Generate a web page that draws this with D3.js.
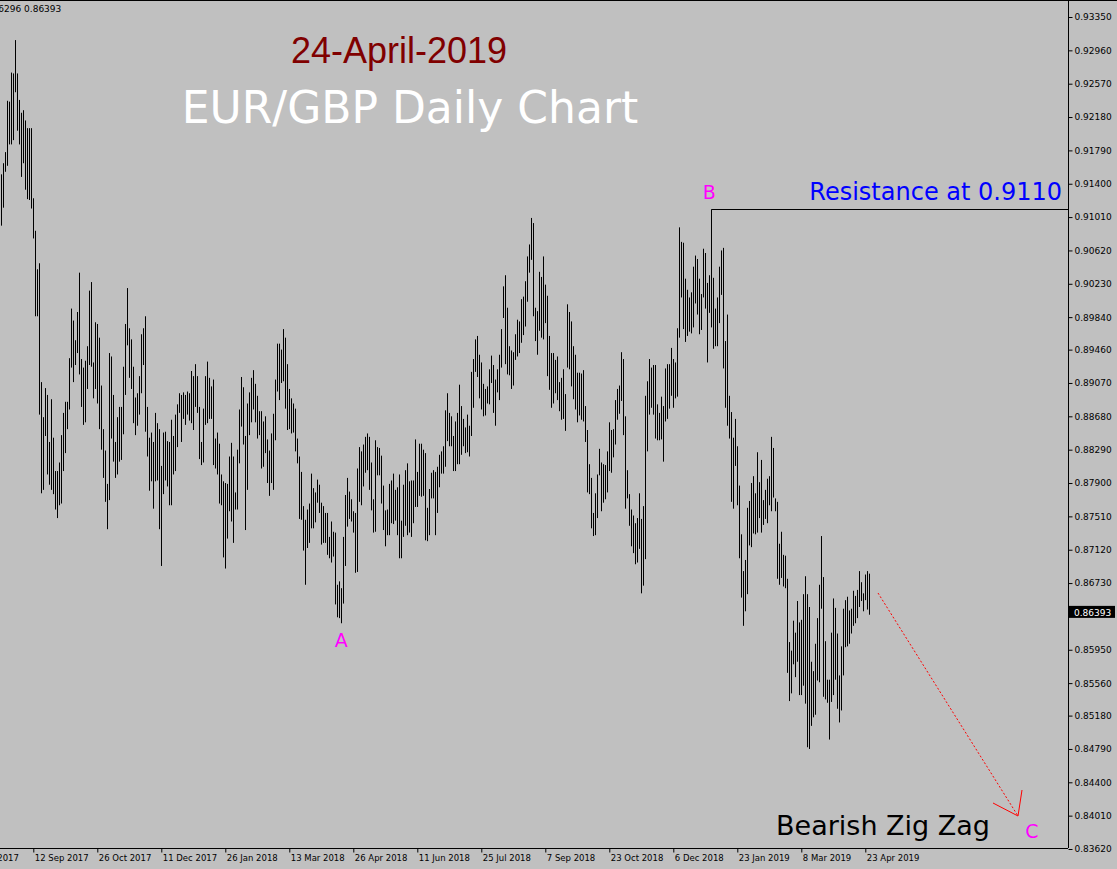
<!DOCTYPE html>
<html><head><meta charset="utf-8">
<script src="https://cdn.jsdelivr.net/npm/d3@7"></script>
<style>body{margin:0;background:#c0c0c0;overflow:hidden}</style>
</head><body>
<script>
// Daily bar highs / lows in pips (price * 10000)
const highsPips=[9151,9164,9177,9237,9236,9270,9269,9308,9269,9238,9223,9226,9214,9205,9205,9205,9123,9085,9040,9047,8908,8867,8901,8893,8838,8888,8843,8804,8804,8814,8846,8872,8885,8885,8936,8994,8980,8957,8990,9036,8935,8925,8933,8950,9015,9025,8931,8978,8976,8960,8904,8853,8828,8789,8942,8938,8893,8838,8867,8879,8879,8926,8976,9018,8971,8958,8926,8890,8895,8915,8964,8971,8985,8879,8843,8849,8838,8872,8860,8853,8810,8849,8850,8839,8838,8864,8845,8870,8882,8895,8893,8896,8893,8897,8895,8921,8915,8929,8915,8879,8838,8877,8915,8932,8913,8903,8911,8842,8849,8836,8800,8792,
8790,8789,8821,8837,8821,8779,8829,8876,8914,8902,8845,8883,8896,8913,8922,8906,8892,8874,8874,8862,8868,8841,8828,8848,8871,8911,8953,8953,8946,8970,8960,8929,8900,8889,8883,8877,8842,8821,8803,8763,8747,8759,8766,8801,8784,8779,8794,8788,8767,8763,8755,8755,8727,8745,8733,8732,8671,8675,8667,8727,8776,8796,8780,8771,8757,8755,8807,8832,8827,8835,8844,8848,8844,8814,8771,8840,8832,8831,8822,8787,8758,8759,8789,8793,8801,8782,8785,8800,8746,8788,8805,8813,8792,8793,8793,8841,8803,8836,8836,8829,8825,8761,8783,8802,8805,8803,8809,8823,8827,8833,
8875,8895,8872,8868,8845,8862,8872,8905,8880,8865,8855,8870,8857,8920,8935,8958,8962,8940,8931,8906,8900,8903,8923,8939,8928,8911,8923,8940,8970,9020,9033,8995,8950,8945,8943,8964,8981,8979,9005,9008,9026,9055,9069,9100,9094,8995,8991,9037,9031,9055,9022,9009,8962,8942,8942,8934,8938,8908,8913,8923,8894,8999,8990,8979,8950,8940,8919,8919,8918,8922,8880,8852,8812,8796,8755,8778,8800,8830,8814,8812,8811,8827,8861,8852,8853,8887,8900,8904,8943,8935,8868,8805,8777,8759,8752,8743,8749,8778,8748,8763,8892,8909,8935,8925,8928,8928,8882,8872,8891,8880,
8924,8929,8929,8948,8935,8931,8971,9089,9072,9071,9029,9016,9007,9013,9043,9056,9052,9029,9011,9064,9059,9024,9033,9110,9030,8994,9007,9043,9062,9065,8956,8987,8892,8873,8843,8865,8833,8787,8730,8687,8700,8761,8769,8790,8798,8778,8826,8791,8817,8770,8782,8795,8798,8844,8831,8772,8768,8719,8733,8706,8705,8678,8604,8594,8629,8615,8652,8627,8630,8660,8681,8660,8645,8581,8570,8602,8632,8671,8728,8680,8605,8560,8560,8615,8655,8644,8614,8565,8599,8643,8653,8657,8641,8643,8664,8658,8665,8687,8674,8661,8683,8687,8684];
const lowsPips=[9091,9112,9154,9161,9186,9186,9191,9247,9202,9186,9148,9164,9133,9122,9121,9111,9076,8985,8985,8870,8778,8782,8845,8800,8788,8782,8777,8759,8749,8764,8766,8804,8825,8853,8876,8925,8908,8928,8942,8917,8879,8858,8861,8900,8928,8926,8889,8900,8883,8853,8829,8796,8768,8736,8770,8842,8815,8796,8800,8815,8817,8847,8893,8951,8913,8900,8860,8846,8857,8870,8895,8928,8850,8821,8781,8792,8760,8792,8793,8736,8693,8777,8793,8786,8764,8764,8800,8804,8832,8872,8838,8865,8858,8870,8863,8860,8852,8879,8872,8818,8811,8814,8858,8860,8865,8865,8811,8807,8800,8766,8764,8703,
8690,8725,8757,8745,8720,8759,8759,8813,8856,8835,8735,8782,8846,8861,8876,8861,8842,8846,8807,8809,8825,8790,8775,8790,8782,8840,8897,8887,8907,8909,8877,8852,8853,8848,8849,8827,8813,8748,8747,8711,8671,8714,8720,8737,8737,8744,8767,8755,8718,8720,8720,8706,8702,8697,8704,8648,8633,8632,8626,8649,8693,8739,8748,8745,8732,8685,8686,8768,8764,8786,8802,8805,8782,8758,8732,8733,8799,8799,8766,8735,8716,8729,8729,8743,8742,8746,8729,8702,8702,8727,8740,8729,8732,8727,8743,8762,8762,8775,8774,8775,8723,8722,8729,8772,8772,8729,8755,8785,8801,8801,
8809,8839,8833,8833,8804,8804,8812,8812,8823,8833,8825,8826,8821,8845,8878,8920,8914,8889,8876,8868,8869,8883,8882,8907,8872,8857,8896,8887,8925,8983,8929,8917,8916,8900,8904,8934,8938,8942,8954,8963,8973,9002,9036,9051,8985,8956,8940,8968,8960,8958,8977,8915,8899,8878,8883,8895,8887,8874,8864,8865,8851,8925,8923,8903,8888,8876,8861,8869,8864,8862,8838,8779,8777,8737,8728,8729,8749,8799,8757,8767,8771,8779,8804,8802,8820,8835,8864,8871,8886,8846,8760,8772,8740,8716,8708,8695,8697,8713,8661,8670,8701,8827,8870,8878,8870,8842,8840,8840,8841,8815,
8862,8865,8877,8892,8878,8889,8891,8960,9007,8970,8955,8962,8967,8965,8972,9000,8987,8964,8969,9007,8994,8931,8989,8972,8947,8950,8950,8977,9010,8924,8878,8857,8842,8768,8760,8810,8764,8702,8656,8623,8640,8660,8717,8715,8731,8730,8732,8749,8732,8741,8748,8743,8764,8757,8773,8757,8678,8671,8679,8669,8667,8568,8535,8544,8578,8563,8581,8542,8542,8553,8532,8481,8479,8506,8516,8519,8559,8557,8643,8540,8537,8533,8490,8534,8542,8560,8526,8510,8524,8565,8598,8599,8602,8614,8623,8626,8632,8645,8652,8640,8653,8642,8636];
const priceTicks=[0.93350,0.92960,0.92570,0.92180,0.91790,0.91400,0.91010,0.90620,0.90230,0.89840,0.89460,0.89070,0.88680,0.88290,0.87900,0.87510,0.87120,0.86730,0.85950,0.85560,0.85180,0.84790,0.84400,0.84010,0.83620];
const dateLabels=["28 Jul 2017","12 Sep 2017","26 Oct 2017","11 Dec 2017","26 Jan 2018","13 Mar 2018","26 Apr 2018","11 Jun 2018","25 Jul 2018","7 Sep 2018","23 Oct 2018","6 Dec 2018","23 Jan 2019","8 Mar 2019","23 Apr 2019"];
const dateIndex=[-16,16,48,80,112,144,176,208,240,272,304,336,368,400,432];
const lastClose=0.86393, prevClose=0.86296, resistance=0.9110;

const W=1117,H=869,right=1068,bottom=848;
const svg=d3.select("body").append("svg").attr("width",W).attr("height",H).style("display","block");
svg.append("rect").attr("width",W).attr("height",H).attr("fill","#c0c0c0");
const x=d3.scaleLinear().domain([0,434]).range([1.3,869.3]);
const y=d3.scaleLinear().domain([0.8362,0.9335]).range([849,17]);
const bars=highsPips.map((h,i)=>({i,h:h/10000,l:lowsPips[i]/10000}));
svg.append("g").selectAll("line").data(bars).join("line")
 .attr("x1",d=>Math.round(x(d.i))+0.5).attr("x2",d=>Math.round(x(d.i))+0.5)
 .attr("y1",d=>y(d.h)).attr("y2",d=>y(d.l)).attr("stroke","#000").attr("stroke-width",1);

svg.append("line").attr("x1",0).attr("x2",W).attr("y1",0.5).attr("y2",0.5).attr("stroke","#000");
const ya=svg.append("g").attr("transform",`translate(${right+0.5},0)`)
 .call(d3.axisRight(y).tickValues(priceTicks).tickSize(4).tickFormat(d3.format(".5f")));
ya.select(".domain").attr("d",`M0,0V${bottom}`);
ya.selectAll("text").attr("font-family","DejaVu Sans").attr("font-size",9).attr("x",6);
const xa=svg.append("g").attr("transform",`translate(0,${bottom+0.5})`)
 .call(d3.axisBottom(x).tickValues(dateIndex).tickSize(4).tickFormat((d,i)=>dateLabels[i]));
xa.select(".domain").attr("d",`M0,0H${right}`);
xa.selectAll("text").attr("font-family","DejaVu Sans").attr("font-size",8.5).attr("text-anchor","start").attr("dx",1).attr("y",6);

svg.append("rect").attr("x",right+1).attr("y",y(lastClose)-6).attr("width",46).attr("height",12).attr("fill","#000");
svg.append("text").attr("x",right+6).attr("y",y(lastClose)+4).attr("fill","#fff").attr("font-family","DejaVu Sans").attr("font-size",9).text(d3.format(".5f")(lastClose));
svg.append("text").attr("x",-16).attr("y",12).attr("font-family","DejaVu Sans").attr("font-size",9).attr("fill","#000")
 .text(d3.format(".5f")(prevClose)+" "+d3.format(".5f")(lastClose));

svg.append("text").attr("x",399).attr("y",63).attr("text-anchor","middle").attr("font-family","Liberation Sans").attr("font-size",36).attr("fill","#800000").text("24-April-2019");
svg.append("text").attr("x",410).attr("y",123).attr("text-anchor","middle").attr("font-family","DejaVu Sans").attr("font-size",44).attr("fill","#fff").text("EUR/GBP Daily Chart");

const bIdx=355;
svg.append("path").attr("d",`M${Math.round(x(bIdx))+0.5},${y(bars[bIdx].h)}V${Math.round(y(resistance))+0.5}H${right}`).attr("fill","none").attr("stroke","#000").attr("stroke-width",1);
svg.append("text").attr("x",1062).attr("y",200).attr("text-anchor","end").attr("font-family","DejaVu Sans").attr("font-size",24).attr("fill","#0000ff").text("Resistance at 0.9110");
svg.append("text").attr("x",x(bIdx)-2).attr("y",199).attr("text-anchor","middle").attr("font-family","DejaVu Sans").attr("font-size",19).attr("fill","#ff00ff").text("B");
const aIdx=170;
svg.append("text").attr("x",x(aIdx)).attr("y",647).attr("text-anchor","middle").attr("font-family","DejaVu Sans").attr("font-size",19).attr("fill","#ff00ff").text("A");

const sx=878,sy=593,ex=1018,ey=816;
svg.append("line").attr("x1",sx).attr("y1",sy).attr("x2",ex).attr("y2",ey).attr("stroke","#ff0000").attr("stroke-dasharray","2,2");
svg.append("path").attr("d",`M993,803L${ex},${ey}L1022,790`).attr("fill","none").attr("stroke","#ff0000");
svg.append("text").attr("x",1032).attr("y",838).attr("text-anchor","middle").attr("font-family","DejaVu Sans").attr("font-size",19).attr("fill","#ff00ff").text("C");
svg.append("text").attr("x",990).attr("y",835).attr("text-anchor","end").attr("font-family","DejaVu Sans").attr("font-size",27).attr("fill","#000").text("Bearish Zig Zag");
</script></body></html>
